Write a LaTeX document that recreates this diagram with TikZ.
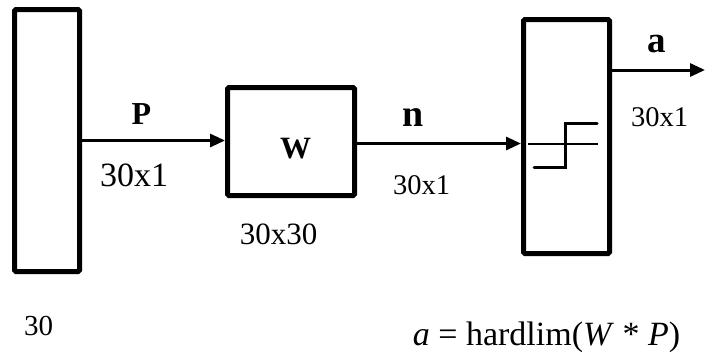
\documentclass[tikz,border=0pt]{standalone}
\usepackage{fontspec}
\setmainfont{Liberation Serif}
\usetikzlibrary{arrows.meta}
\begin{document}
\begin{tikzpicture}[x=1pt,y=-1pt,
  blk/.style={draw,line width=5pt,rounded corners=1.5pt,inner sep=0pt},
  arr/.style={line width=3pt,-{Triangle[length=15pt,width=13pt]}},
  lbl/.style={inner sep=0pt},
  fs/.style={font=\fontsize{#1}{#1}\selectfont}]
\useasboundingbox (0,0) rectangle (706,354);
% blocks
\node[blk,minimum width=65pt,minimum height=262pt] (in) at (47,140.5) {};
\node[blk,minimum width=127pt,minimum height=108pt] (W) at (291,141.5) {};
\node[blk,minimum width=86pt,minimum height=234pt] (hl) at (566.5,136.5) {};
\coordinate (out) at (705,70);
% connectors
\draw[arr] (in.east) -- (in.east -| W.west);
\draw[arr] ([yshift=-2pt]W.east) -- ([yshift=-2pt]W.east -| hl.west);
\draw[arr] (hl.east |- out) -- (out);
% hardlim symbol
\draw[line width=1.5pt] (528,144) -- (598,144);
\draw[line width=3pt,line cap=round] (534,167) -- (565,167) -- (565,123) -- (597,123);
% labels
\node[lbl,fs=32] (lP) at (141.5,114) {\textbf{P}};
\node[lbl,fs=34] (lP2) at (134,175) {30x1};
\node[lbl,fs=31] (lW) at (295.5,148.5) {\textbf{W}};
\node[lbl,fs=38] (ln) at (413,117.5) {\textbf{n}};
\node[lbl,fs=28.5] (ln2) at (421.5,185) {30x1};
\node[lbl,fs=31] (lW2) at (278.5,234) {30x30};
\node[lbl,fs=37] (la) at (656.5,44) {\textbf{a}};
\node[lbl,fs=28.5] (la2) at (659.5,117.5) {30x1};
\node[lbl,fs=29] (l30) at (38.5,326) {30};
\node[lbl,fs=34,anchor=base] (eq) at (546.5,345) {\textit{a} = hardlim(\textit{W} * \textit{P})};
\end{tikzpicture}
\end{document}
